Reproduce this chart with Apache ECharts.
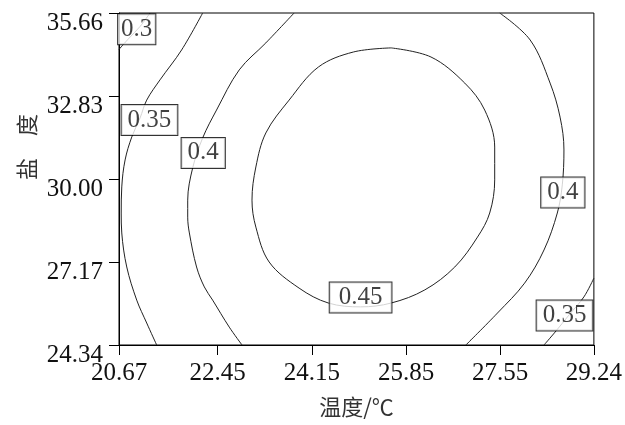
<!DOCTYPE html>
<html>
<head>
<meta charset="utf-8">
<script src="https://cdn.jsdelivr.net/npm/echarts@6/dist/echarts.min.js"></script>
<style>html,body{margin:0;padding:0;background:#fff;}#chart{width:625px;height:425px;}</style>
</head>
<body>
<div id="chart"></div>
<script>
// Axis ticks (temperature °C on x, salinity on y)
const xTicks = [20.67, 22.45, 24.15, 25.85, 27.55, 29.24];
const yTicks = [24.34, 27.17, 30.00, 32.83, 35.66];
const xName = '温度/℃';
const yName = '盐　度';

// Contour lines, [temperature, salinity] pairs
const c030 = [[21.23,35.66],[21.05,35.20],[20.85,34.80],[20.67,34.42]];
const c035a = [[22.18,35.66],[21.80,34.40],[21.41,33.38],[21.17,32.69],[21.05,32.08],[20.90,31.43],[20.78,30.65],[20.72,29.73],[20.71,28.84],[20.72,28.16],[20.81,27.00],[20.99,25.87],[21.17,25.09],[21.35,24.34]];
const c035b = [[29.24,26.62],[29.06,25.98],[28.79,25.36],[28.54,24.78],[28.34,24.34]];
const c040a = [[23.83,35.66],[23.32,34.64],[22.84,33.72],[22.43,32.35],[22.18,31.40],[22.00,30.38],[21.91,29.28],[21.91,28.70],[21.94,28.16],[22.07,27.00],[22.21,26.32],[22.36,25.87],[22.66,24.95],[22.89,24.34]];
const c040b = [[27.54,35.66],[28.09,34.74],[28.45,33.27],[28.63,32.11],[28.70,30.99],[28.67,29.80],[28.58,28.84],[28.34,27.58],[27.99,26.45],[27.50,25.43],[26.93,24.34]];
const c045 = [[25.58,34.47],[26.30,34.16],[26.91,33.27],[27.27,32.35],[27.45,31.09],[27.45,29.97],[27.36,28.84],[27.14,28.02],[26.73,27.00],[26.19,26.22],[25.58,25.77],[25.03,25.64],[24.45,25.77],[23.92,26.28],[23.38,27.17],[23.14,28.36],[23.07,29.28],[23.14,30.41],[23.32,31.57],[23.74,32.69],[24.27,33.82],[24.90,34.33],[25.58,34.47]];

// Contour level labels: [temperature, salinity, level]
const contourLabels = [[20.99,35.11,'0.3'],[21.22,32.01,'0.35'],[22.19,30.89,'0.4'],[25.03,25.96,'0.45'],[28.68,29.54,'0.4'],[28.71,25.35,'0.35']];
const labelPad = {'0.3':[3,3,2,3],'0.35':[3,6,2,6],'0.4':[3,6,2,6],'0.45':[3,9,2,9]};

const serif = 'Liberation Serif';
const cjk = 'Noto Sans CJK SC';
const lineStyle = {color:'#222', width:1};
function contour(name, data){
  return {type:'line', name:name, data:data, smooth:0.35, symbol:'none', lineStyle:lineStyle, z:2, silent:true};
}

const chart = echarts.init(document.getElementById('chart'), null, {renderer:'canvas'});
chart.setOption({
  animation:false,
  backgroundColor:'#fff',
  grid:{left:119, right:28, top:13, bottom:80, show:true, borderColor:'#000', borderWidth:1, containLabel:false},
  xAxis:{
    type:'value', min:xTicks[0], max:xTicks[xTicks.length-1],
    name:xName, nameLocation:'middle', nameGap:51,
    nameTextStyle:{fontFamily:cjk, fontSize:22, color:'#333'},
    axisLine:{show:true, lineStyle:{color:'#000', width:1}},
    axisTick:{show:true, inside:false, length:10, customValues:xTicks, lineStyle:{color:'#000'}},
    axisLabel:{customValues:xTicks, margin:16, fontFamily:serif, fontSize:25, color:'#111',
      formatter:v=>Number(v).toFixed(2)},
    splitLine:{show:false}
  },
  yAxis:{
    type:'value', min:yTicks[0], max:yTicks[yTicks.length-1],
    axisLine:{show:true, lineStyle:{color:'#000', width:1}},
    axisTick:{show:true, inside:false, length:10, customValues:yTicks, lineStyle:{color:'#000'}},
    axisLabel:{customValues:yTicks, margin:16, color:'#111',
      formatter:v=>'{a|'+Number(v).toFixed(2)+'}',
      rich:{a:{fontFamily:serif, fontSize:25, color:'#111', padding:[20,0,0,0]}}},
    splitLine:{show:false}
  },
  graphic:[{
    type:'text', x:27, y:147, rotation:Math.PI/2,
    style:{text:yName, fontFamily:cjk, fontSize:22, fill:'#333', align:'center', verticalAlign:'middle'}
  }],
  series:[
    contour('0.3', c030),
    contour('0.35', c035a),
    contour('0.35', c035b),
    contour('0.4', c040a),
    contour('0.4', c040b),
    contour('0.45', c045),
    {
      type:'scatter', z:5, silent:true, symbolSize:0,
      data:contourLabels.map(d=>({
        value:[d[0],d[1]],
        label:{show:true, position:'inside', formatter:d[2], fontFamily:serif, fontSize:25, color:'#111',
          backgroundColor:'#fff', borderColor:'#000', borderWidth:1, padding:labelPad[d[2]], lineHeight:25}
      }))
    }
  ]
});
</script>
</body>
</html>
